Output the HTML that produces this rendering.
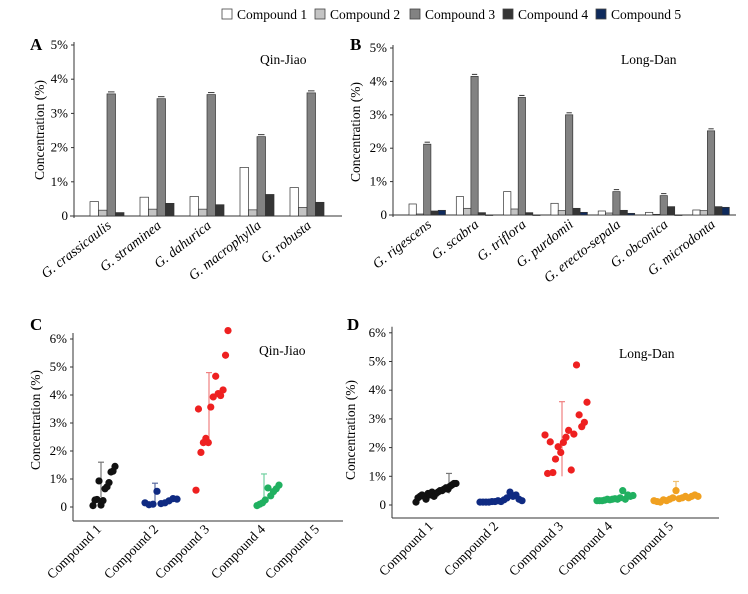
<!DOCTYPE html>
<html><head><meta charset="utf-8"><style>
body{margin:0;background:#fff}
svg{display:block;font-family:"Liberation Serif",serif}
</style></head><body>
<svg id="fig" width="748" height="594" viewBox="0 0 748 594">
<g id="legend"></g>
<g id="pA"></g>
<g id="pB"></g>
<g id="pC"></g>
<g id="pD"></g>
</svg>
<script>
// ---- data ----
const seriesNames = ["Compound 1","Compound 2","Compound 3","Compound 4","Compound 5"];
const speciesA = ["G. crassicaulis","G. straminea","G. dahurica","G. macrophylla","G. robusta"];
const a1 = [0.42,0.55,0.57,1.42,0.83];
const a2 = [0.17,0.20,0.20,0.18,0.25];
const a3 = [3.57,3.43,3.55,2.32,3.60];
const a4 = [0.10,0.37,0.33,0.63,0.40];
const speciesB = ["G. rigescens","G. scabra","G. triflora","G. purdomii","G. erecto-sepala","G. obconica","G. microdonta"];
const b1 = [0.33,0.55,0.70,0.35,0.12,0.08,0.15];
const b2 = [0.03,0.20,0.18,0.13,0.06,0.02,0.13];
const b3 = [2.12,4.15,3.52,3.00,0.70,0.58,2.52];
const b4 = [0.12,0.07,0.07,0.20,0.14,0.25,0.25];
const b5 = [0.14,0.00,0.00,0.08,0.05,0.00,0.23];
const barTicks = ["0","1%","2%","3%","4%","5%"];
const scatTicks = ["0","1%","2%","3%","4%","5%","6%"];
const c1 = [0.05,0.25,0.27,0.93,0.07,0.23,0.65,0.72,0.87,1.25,1.28,1.45];
const c2 = [0.15,0.08,0.10,0.56,0.12,0.15,0.22,0.30,0.28];
const c3 = [0.6,3.5,1.95,2.3,2.45,2.3,3.57,3.93,4.67,4.05,3.98,4.18,5.42,6.3];
const c4 = [0.05,0.10,0.15,0.25,0.68,0.40,0.55,0.65,0.78];
const c5 = [];
const cErr = [[0.35,1.6],[0.12,0.85],[2.3,4.8],[0.15,1.18],null];
const d1 = [0.1,0.25,0.3,0.35,0.3,0.2,0.4,0.35,0.45,0.3,0.4,0.45,0.5,0.5,0.55,0.6,0.55,0.65,0.7,0.75,0.75];
const d2 = [0.1,0.1,0.1,0.1,0.12,0.12,0.15,0.12,0.18,0.25,0.45,0.3,0.35,0.2,0.15];
const d3 = [2.44,1.1,2.2,1.13,1.6,2.03,1.83,2.18,2.36,2.6,1.22,2.47,4.88,3.14,2.73,2.88,3.58];
const d4 = [0.15,0.15,0.15,0.17,0.2,0.18,0.2,0.22,0.2,0.25,0.5,0.2,0.35,0.3,0.33];
const d5 = [0.15,0.12,0.1,0.18,0.15,0.2,0.25,0.5,0.22,0.25,0.3,0.25,0.3,0.35,0.3];
const dErr = [[0.4,1.1],null,[1.0,3.6],null,[0.45,0.82]];

const NS="http://www.w3.org/2000/svg";
function mk(parent,tag,attrs,text){const e=document.createElementNS(NS,tag);for(const k in attrs)e.setAttribute(k,attrs[k]);if(text!==undefined)e.textContent=text;parent.appendChild(e);return e;}
const barFill=["#ffffff","#c4c4c4","#828282","#353535","#0e2a5c"];

// legend
const lg=document.getElementById('legend');
const lgX=[222,315,410,503,596];
seriesNames.forEach((n,i)=>{
  const r=mk(lg,'rect',{x:lgX[i],y:9,width:10,height:10,fill:barFill[i],stroke:"#444","stroke-width":0.8});
  
  
  const t=mk(lg,'text',{x:lgX[i]+15,y:19,"font-size":13.5},n);
  
  
});

function panelBar(g,opt){
  const y=v=>opt.y0-v*opt.ppu;
  mk(g,'line',{x1:opt.ax,y1:opt.y0-5*opt.ppu-3,x2:opt.ax,y2:opt.y0+2,stroke:"#333","stroke-width":1});
  mk(g,'line',{x1:opt.ax-4,y1:opt.y0,x2:opt.xEnd,y2:opt.y0,stroke:"#333","stroke-width":1});
  barTicks.forEach((t,i)=>{
    mk(g,'line',{x1:opt.ax-3,y1:y(i),x2:opt.ax,y2:y(i),stroke:"#333"});
    const tx=mk(g,'text',{x:opt.ax-6,y:y(i)+4,"font-size":13,"text-anchor":"end"},t);
    
    
  });
  opt.species.forEach((s,gi)=>{
    const gx=opt.g0+gi*opt.gs;
    opt.series.forEach((arr,si)=>{
      const v=arr[gi]; const x=gx+si*opt.bw;
      const r=mk(g,'rect',{x:x,y:y(v),width:opt.bw,height:Math.max(0.5,v*opt.ppu),fill:barFill[si],stroke:"#333","stroke-width":0.7});
      
      
      if(si==2){mk(g,'line',{x1:x+1,y1:y(v)-2,x2:x+opt.bw-1,y2:y(v)-2,stroke:"#333"});}
    });
    const lx=gx+opt.series.length*opt.bw/2+5;
    const ly=opt.y0+11;
    const t=mk(g,'text',{x:lx,y:ly,"font-size":14,"font-style":"italic","text-anchor":"end",transform:`rotate(-38 ${lx} ${ly})`},s);
    
    
  });
}

function labels(g,L,lx,ly,title,tx,ty,ytx,yty){
  const a=mk(g,'text',{x:lx,y:ly,"font-size":17,"font-weight":"bold"},L);
  
  const b=mk(g,'text',{x:tx,y:ty,"font-size":13.5},title);
  
  const c=mk(g,'text',{x:ytx,y:yty,"font-size":13.5,"text-anchor":"middle",transform:`rotate(-90 ${ytx} ${yty})`},"Concentration (%)");
  
}

const gA=document.getElementById('pA');
panelBar(gA,{ax:74,y0:216,ppu:34.2,xEnd:342,g0:90,gs:50,bw:8.5,species:speciesA,series:[a1,a2,a3,a4]});
labels(gA,"A",30,50,"Qin-Jiao",260,64,44,130);
const gB=document.getElementById('pB');
panelBar(gB,{ax:393,y0:215,ppu:33.4,xEnd:736,g0:409,gs:47.3,bw:7.3,species:speciesB,series:[b1,b2,b3,b4,b5]});
labels(gB,"B",350,50,"Long-Dan",621,64,360,132);

const dotCol=["#111111","#0f2a82","#ee2020","#20b060","#f0a020"];
const errCol=["#777","#5a6aa0","#f08080","#70d0a0","#f0c070"];
function panelScatter(g,opt){
  const y=v=>opt.y0-v*opt.ppu;
  mk(g,'line',{x1:opt.ax,y1:y(6)-6,x2:opt.ax,y2:opt.xAxisY,stroke:"#333"});
  mk(g,'line',{x1:opt.ax,y1:opt.xAxisY,x2:opt.xEnd,y2:opt.xAxisY,stroke:"#333"});
  scatTicks.forEach((t,i)=>{
    mk(g,'line',{x1:opt.ax-3,y1:y(i),x2:opt.ax,y2:y(i),stroke:"#333"});
    const tx=mk(g,'text',{x:opt.ax-6,y:y(i)+4,"font-size":13,"text-anchor":"end"},t);
    
    
  });
  opt.groups.forEach((arr,gi)=>{
    const c=opt.centers[gi],h=opt.half[gi];
    const e=opt.err[gi];
    if(e){
      const ex=c+opt.errOff[gi];
      mk(g,'line',{x1:ex,y1:y(e[0]),x2:ex,y2:y(e[1]),stroke:errCol[gi],"stroke-width":1.2});
      mk(g,'line',{x1:ex-3,y1:y(e[1]),x2:ex+3,y2:y(e[1]),stroke:errCol[gi],"stroke-width":1.2});
    }
    arr.forEach((v,i)=>{
      const x=arr.length>1?c-h+i*2*h/(arr.length-1):c;
      const d=mk(g,'circle',{cx:x,cy:y(v),r:3.6,fill:dotCol[gi]});
      
      
    });
    const lx=c-2,ly=opt.xAxisY+9;
    const t=mk(g,'text',{x:lx,y:ly,"font-size":13.5,"text-anchor":"end",transform:`rotate(-45 ${lx} ${ly})`},seriesNames[gi]);
    
    
  });
}
const gC=document.getElementById('pC');
panelScatter(gC,{ax:73,y0:507,ppu:28,xAxisY:521,xEnd:343,groups:[c1,c2,c3,c4,c5],
  centers:[104,161,212,268,322],half:[11,16,16,11,0],err:cErr,errOff:[-3,-6,-3,-4,0]});
labels(gC,"C",30,330,"Qin-Jiao",259,355,40,420);
const gD=document.getElementById('pD');
panelScatter(gD,{ax:392,y0:505,ppu:28.7,xAxisY:518,xEnd:719,groups:[d1,d2,d3,d4,d5],
  centers:[436,501,566,615,676],half:[20,21,21,18,22],err:dErr,errOff:[13,0,-4,0,0]});
labels(gD,"D",347,330,"Long-Dan",619,358,355,430);
</script>
</body></html>
